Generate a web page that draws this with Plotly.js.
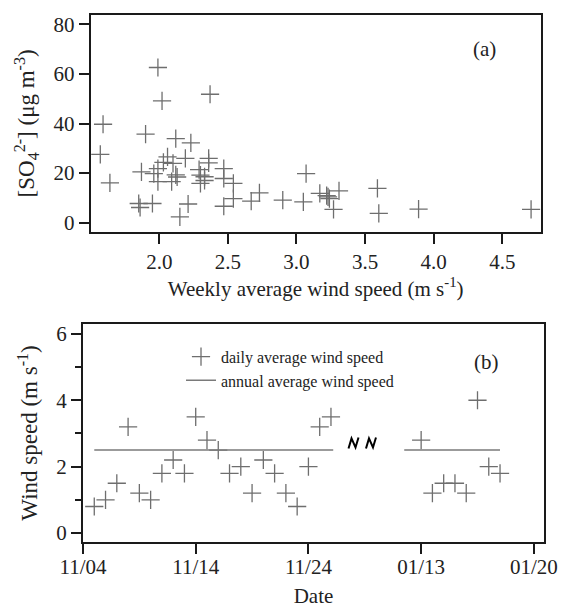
<!DOCTYPE html>
<html>
<head>
<meta charset="utf-8">
<script src="https://cdn.plot.ly/plotly-3.0.1.min.js"></script>
<style>html,body{margin:0;padding:0;background:#fff;}#chart{width:565px;height:613px;}</style>
</head>
<body>
<div id="chart"></div>
<script>
// Panel (a): weekly average wind speed vs sulfate
const weeklyWind = [1.57,1.59,1.64,1.85,1.86,1.87,1.90,1.95,1.96,1.99,1.99,1.99,2.02,2.03,2.06,2.09,2.10,2.12,2.12,2.13,2.15,2.19,2.21,2.23,2.29,2.30,2.30,2.33,2.33,2.36,2.36,2.37,2.47,2.47,2.47,2.54,2.54,2.67,2.73,2.90,3.05,3.07,3.17,3.22,3.23,3.24,3.27,3.31,3.59,3.60,3.89,4.71];
const sulfate    = [27.5,39.7,16.0,7.7,6.1,20.5,35.7,7.7,19.8,21.8,16.5,62.6,49.1,24.3,26.5,16.5,23.9,33.9,19.3,18.4,2.3,25.9,7.5,32.2,21.4,19.2,15.8,18.5,17.0,25.9,24.1,51.8,21.8,17.8,6.6,15.8,9.7,8.7,12.0,9.1,8.4,19.8,11.8,10.9,10.4,9.7,5.3,12.8,13.8,3.7,5.4,5.3];

// Panel (b): daily average wind speed (position on broken date axis)
const dayPos   = [1,2,3,4,5,6,7,8,9,10,11,12,13,14,15,16,17,18,19,20,21,22, 30,31,32,33,34,35,36,37];
const dailyWind = [0.8,1.0,1.5,3.2,1.2,1.0,1.8,2.2,1.8,3.5,2.8,2.5,1.8,2.0,1.2,2.2,1.8,1.2,0.8,2.0,3.2,3.5, 2.8,1.2,1.5,1.5,1.2,4.0,2.0,1.8];
const annualAvg = 2.5;
const annualSegX = [1, 22.2, null, 28.5, 37];
const dateTickPos = [0,10,20,30,40];
const dateTickText = ['11/04','11/14','11/24','01/13','01/20'];
const breakPos = [24.0, 25.55];
const breakY = 2.7;

const FONT = 'Liberation Serif, Times New Roman, serif';
const TXT = '#222';
const MK = '#6e6e6e';

const traces = [
  {x: weeklyWind, y: sulfate, type:'scatter', mode:'markers', xaxis:'x', yaxis:'y', showlegend:false,
   marker:{symbol:'cross-thin', size:13, color:MK, line:{color:MK, width:1.3}}},
  {x: dayPos, y: dailyWind, type:'scatter', mode:'markers', xaxis:'x2', yaxis:'y2', name:'daily average wind speed',
   marker:{symbol:'cross-thin', size:13, color:MK, line:{color:MK, width:1.3}}},
  {x: annualSegX, y: annualSegX.map(v => v === null ? null : annualAvg), type:'scatter', mode:'lines', xaxis:'x2', yaxis:'y2',
   name:'annual average wind speed', connectgaps:false, line:{color:'#7a7a7a', width:1.5}}
];

const axCommon = {showline:true, linecolor:'#1a1a1a', linewidth:2, mirror:true, showgrid:false, zeroline:false,
  ticks:'outside', ticklen:10, tickwidth:2, tickcolor:'#1a1a1a', tickfont:{family:FONT, size:21, color:TXT}};

const breakShapes = breakPos.map(bx => ({type:'path', xref:'x2', yref:'y2', xsizemode:'pixel', ysizemode:'pixel',
  xanchor:bx, yanchor:breakY, path:'M-5,-5 L-2,5 L2,-4 L5,6', line:{color:'#000', width:2}}));

const layout = {
  width:565, height:613,
  margin:{l:83, r:21, t:15, b:71},
  paper_bgcolor:'#fff', plot_bgcolor:'#fff',
  font:{family:FONT, color:TXT},
  xaxis: Object.assign({}, axCommon, {domain:[0.0167,0.9928], anchor:'y', range:[1.5,4.78],
    tickvals:[2.0,2.5,3.0,3.5,4.0,4.5], ticktext:['2.0','2.5','3.0','3.5','4.0','4.5'],
    title:{text:'Weekly average wind speed (m s<sup>-1</sup>)', font:{family:FONT, size:21, color:TXT}, standoff:6}}),
  yaxis: Object.assign({}, axCommon, {domain:[0.5887,1], anchor:'x', range:[-3.7,83.8], tickvals:[0,20,40,60,80],
    title:{text:'[SO<sub>4</sub><sup>2-</sup>] (μg m<sup>-3</sup>)', font:{family:FONT, size:23, color:TXT}, standoff:12}}),
  xaxis2: Object.assign({}, axCommon, {domain:[0,1], anchor:'y2', range:[0,40.9],
    tickvals:dateTickPos, ticktext:dateTickText, ticklabelstandoff:-5,
    title:{text:'Date', font:{family:FONT, size:21, color:TXT}, standoff:10}}),
  yaxis2: Object.assign({}, axCommon, {domain:[0,0.4138], anchor:'x2', range:[-0.27,6.3], tickvals:[0,2,4,6],
    minor:{tickvals:[1,3,5], ticks:'outside', ticklen:6, tickwidth:2, tickcolor:'#1a1a1a'},
    title:{text:'Wind speed (m s<sup>-1</sup>)', font:{family:FONT, size:23, color:TXT}, standoff:12}}),
  showlegend:true,
  legend:{x:0.2126, y:0.384, xanchor:'left', yanchor:'top', bgcolor:'rgba(0,0,0,0)', borderwidth:0,
    font:{family:FONT, size:16, color:TXT}, tracegroupgap:0, itemwidth:30},
  annotations:[
    {xref:'x', yref:'y', x:4.37, y:70, text:'(a)', showarrow:false, font:{family:FONT, size:21, color:TXT}},
    {xref:'x2', yref:'y2', x:35.8, y:5.15, text:'(b)', showarrow:false, font:{family:FONT, size:21, color:TXT}}
  ],
  shapes: breakShapes
};

Plotly.newPlot('chart', traces, layout, {displayModeBar:false, staticPlot:true});
</script>
</body>
</html>
